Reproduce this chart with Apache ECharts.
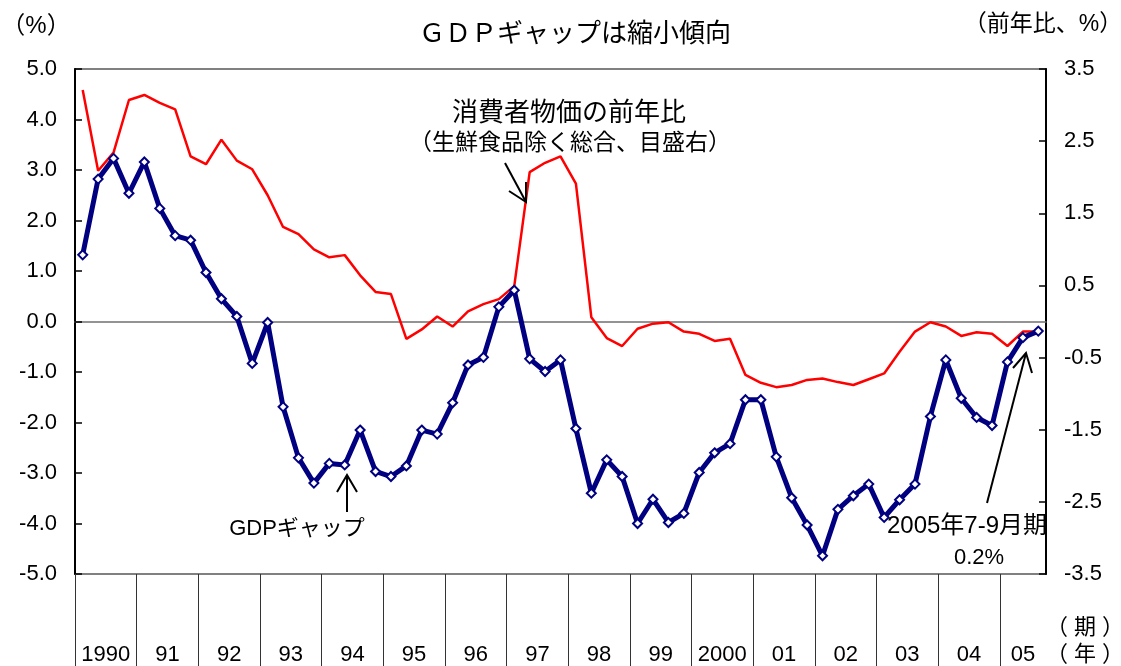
<!DOCTYPE html>
<html>
   <head>
      <meta charset="utf-8">
      <script type="text/javascript" src="https://cdn.jsdelivr.net/npm/echarts@6.0.0/dist/echarts.min.js"></script>
      <title>GDPギャップは縮小傾向</title>
   </head>
   <body style="margin:0">
      <div id="chart" style="width:1121px;height:666px"></div>
      <script type="text/javascript">
         // quarterly, 1990 Q1 .. 2005 Q3
         var quarters = [];
         for (var y = 1990; y <= 2005; ++y){
            for (var q = 1; q <= 4; ++q){
               if (y == 2005 && q == 4) break;
               quarters.push(y + "Q" + q);
            }
         }
         var yearLabels = ["1990", "91", "92", "93", "94", "95", "96", "97", "98", "99", "2000", "01", "02", "03", "04", "05"];
         // GDPギャップ (%), left scale
         var gdpGap = [
            1.32, 2.82, 3.23, 2.54,
            3.16, 2.24, 1.70, 1.61,
            0.97, 0.45, 0.10, -0.83,
            -0.02, -1.69, -2.70, -3.20,
            -2.81, -2.84, -2.15, -2.97,
            -3.07, -2.86, -2.15, -2.23,
            -1.61, -0.86, -0.71, 0.29,
            0.62, -0.74, -0.99, -0.76,
            -2.12, -3.40, -2.74, -3.07,
            -4.00, -3.52, -3.98, -3.80,
            -2.99, -2.60, -2.42, -1.55,
            -1.55, -2.68, -3.49, -4.03,
            -4.64, -3.72, -3.45, -3.22,
            -3.88, -3.53, -3.22, -1.88,
            -0.76, -1.52, -1.90, -2.06,
            -0.80, -0.32, -0.19
         ];
         // 消費者物価 前年比 (%), right scale
         var cpi = [
            3.21, 2.09, 2.34, 3.07,
            3.14, 3.03, 2.94, 2.29,
            2.18, 2.52, 2.23, 2.11,
            1.75, 1.31, 1.21, 1.00,
            0.89, 0.92, 0.64, 0.41,
            0.38, -0.24, -0.11, 0.07,
            -0.07, 0.14, 0.24, 0.31,
            0.49, 2.07, 2.20, 2.29,
            1.91, 0.06, -0.23, -0.34,
            -0.10, -0.03, -0.01, -0.14,
            -0.17, -0.27, -0.24, -0.74,
            -0.85, -0.91, -0.88, -0.81,
            -0.79, -0.84, -0.88, -0.80,
            -0.72, -0.42, -0.14, -0.01,
            -0.07, -0.20, -0.15, -0.17,
            -0.34, -0.14, -0.14
         ];
         var rightTicks = [-3.5, -2.5, -1.5, -0.5, 0.5, 1.5, 2.5, 3.5];

         var FONT = '"Liberation Sans", "Noto Sans CJK JP", sans-serif';
         var n = quarters.length;
         var yearStarts = [], yearMids = [];
         for (var i = 0; i < yearLabels.length; ++i){
            yearStarts.push(i * 4);
            yearMids.push(Math.min(i * 4 + 2, (i * 4 + n) / 2));
         }

         function txt(x, y, s, size){
            return {
               type: "text", x: x, y: y, z: 100,
               style: {text: s, font: size + "px " + FONT, fill: "#000", align: "center", verticalAlign: "middle"}
            };
         }
         function arrow(pts){
            return {type: "polyline", z: 100, shape: {points: pts}, style: {stroke: "#000", lineWidth: 2, fill: null}};
         }

         var option = {
            animation: false,
            backgroundColor: "#fff",
            textStyle: {fontFamily: FONT},
            grid: {left: 75, right: 75, top: 69, bottom: 92, show: true, borderColor: "#808080", borderWidth: 2, containLabel: false},
            xAxis: [
               {
                  type: "category", data: quarters, boundaryGap: true,
                  axisLine: {onZero: true, lineStyle: {color: "#707070", width: 1.5}},
                  axisTick: {show: false}, axisLabel: {show: false}, splitLine: {show: false}
               },
               {
                  type: "value", position: "bottom", min: 0, max: n,
                  axisLine: {show: false, onZero: false}, splitLine: {show: false},
                  axisTick: {show: true, length: 100, customValues: yearStarts, lineStyle: {color: "#333", width: 1}},
                  axisLabel: {
                     customValues: yearMids, margin: 70, fontSize: 22, color: "#000", fontFamily: FONT,
                     formatter: function(v){ return yearLabels[Math.round((v - 2) / 4)]; }
                  }
               }
            ],
            yAxis: [
               {
                  type: "value", min: -5, max: 5, interval: 1, position: "left",
                  axisLine: {show: true, lineStyle: {color: "#000", width: 2}},
                  axisTick: {show: true, inside: true, length: 7, lineStyle: {color: "#000", width: 1.5}},
                  splitLine: {show: false},
                  axisLabel: {fontSize: 22, color: "#000", margin: 18, fontFamily: FONT, formatter: function(v){ return v.toFixed(1); }}
               },
               {
                  type: "value", min: -3.5, max: 3.5, position: "right",
                  axisLine: {show: true, lineStyle: {color: "#000", width: 2}},
                  axisTick: {show: true, inside: true, length: 7, customValues: rightTicks, lineStyle: {color: "#000", width: 1.5}},
                  splitLine: {show: false},
                  axisLabel: {fontSize: 22, color: "#000", margin: 18, fontFamily: FONT, customValues: rightTicks, formatter: function(v){ return v.toFixed(1); }}
               }
            ],
            series: [
               {
                  name: "消費者物価の前年比", type: "line", xAxisIndex: 0, yAxisIndex: 1, data: cpi,
                  showSymbol: false, symbol: "none", z: 2,
                  lineStyle: {color: "#ff0000", width: 2.5}
               },
               {
                  name: "GDPギャップ", type: "line", xAxisIndex: 0, yAxisIndex: 0, data: gdpGap,
                  symbol: "diamond", symbolSize: 9, z: 3,
                  itemStyle: {color: "#fff", borderColor: "#000080", borderWidth: 2},
                  lineStyle: {color: "#000080", width: 5}
               }
            ],
            graphic: [
               txt(575, 35, "ＧＤＰギャップは縮小傾向", 26),
               txt(36, 26, "（%）", 24),
               txt(1043, 25, "（前年比、%）", 23),
               txt(569, 114, "消費者物価の前年比", 26),
               txt(570, 144, "（生鮮食品除く総合、目盛右）", 23),
               arrow([[505, 163], [526, 202]]),
               arrow([[509, 191], [526, 202], [526, 182]]),
               txt(297, 529, "GDPギャップ", 22),
               arrow([[347, 512], [347, 475]]),
               arrow([[337, 492], [347, 475], [357, 492]]),
               txt(967, 526, "2005年7-9月期", 24),
               txt(979, 558, "0.2%", 22),
               arrow([[987, 503], [1026, 353]]),
               arrow([[1013, 368], [1026, 353], [1032, 373]]),
               txt(1085, 628, "（ 期 ）", 22),
               txt(1085, 655, "（ 年 ）", 22)
            ]
         };
         var myChart = echarts.init(document.getElementById("chart"));
         myChart.setOption(option);
      </script>
   </body>
</html>
